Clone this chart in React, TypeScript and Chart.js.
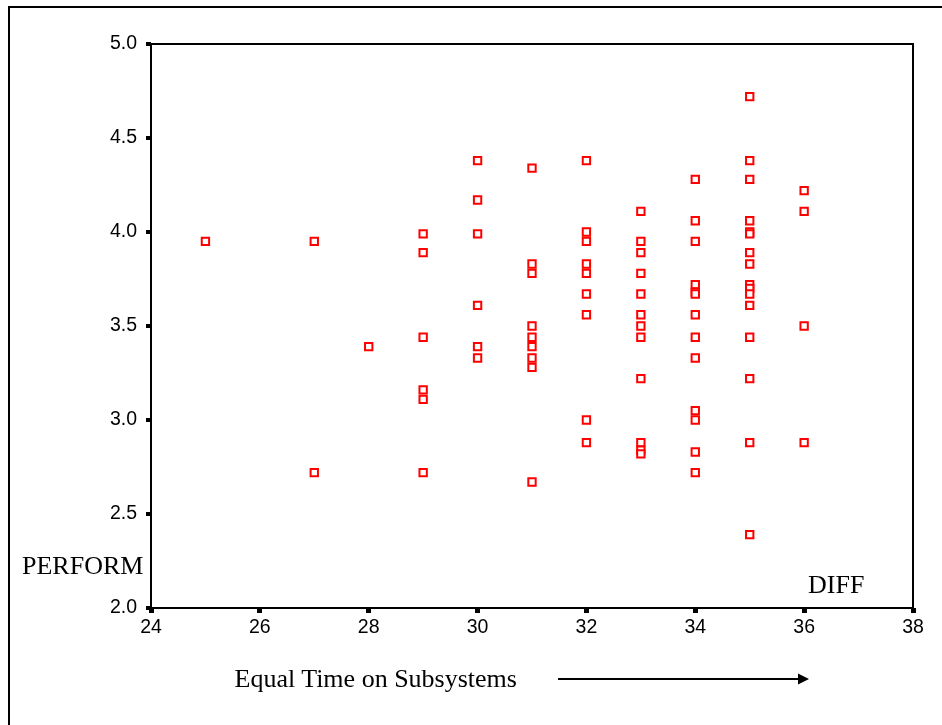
import React, { useEffect, useRef } from "react";
import { Chart, registerables } from "chart.js";

Chart.register(...registerables);

// DIFF (x) values, grouped by column
const diff: number[] = [
  25,
  27, 27,
  28,
  29, 29, 29, 29, 29, 29,
  30, 30, 30, 30, 30, 30,
  31, 31, 31, 31, 31, 31, 31, 31, 31,
  32, 32, 32, 32, 32, 32, 32, 32, 32,
  33, 33, 33, 33, 33, 33, 33, 33, 33, 33, 33, 33,
  34, 34, 34, 34, 34, 34, 34, 34, 34, 34, 34, 34, 34,
  35, 35, 35, 35, 35, 35, 35, 35, 35, 35, 35, 35, 35, 35, 35, 35,
  36, 36, 36, 36,
];

// PERFORM (y) values, same order as diff
const perform: number[] = [
  3.95,
  3.95, 2.72,
  3.39,
  3.99, 3.89, 3.44, 3.16, 3.11, 2.72,
  4.38, 4.17, 3.99, 3.61, 3.39, 3.33,
  4.34, 3.83, 3.78, 3.5, 3.44, 3.39, 3.33, 3.28, 2.67,
  4.38, 4.0, 3.95, 3.83, 3.78, 3.67, 3.56, 3.0, 2.88,
  4.11, 3.95, 3.89, 3.78, 3.67, 3.56, 3.5, 3.44, 3.22, 2.88, 2.84, 2.82,
  4.28, 4.06, 3.95, 3.72, 3.68, 3.67, 3.56, 3.44, 3.33, 3.05, 3.0, 2.83, 2.72,
  4.72, 4.38, 4.28, 4.06, 4.0, 3.99, 3.89, 3.83, 3.72, 3.7, 3.67, 3.61, 3.44, 3.22, 2.88, 2.39,
  4.22, 4.11, 3.5, 2.88,
];

const xMin = 24;
const xMax = 38;
const xStep = 2;
const yMin = 2;
const yMax = 5;
const yStep = 0.5;

const yTitle = "PERFORM";
const xTitle = "DIFF";
const caption = "Equal Time on Subsystems";

const frameBox = {
  id: "frameBox",
  afterDraw(chart: any) {
    const { ctx, chartArea } = chart;
    ctx.save();
    ctx.strokeStyle = "#000";
    ctx.lineWidth = 2;
    ctx.strokeRect(
      chartArea.left,
      chartArea.top,
      chartArea.right - chartArea.left,
      chartArea.bottom - chartArea.top
    );
    ctx.restore();
  },
};

export default function App() {
  const ref = useRef<HTMLCanvasElement | null>(null);

  useEffect(() => {
    if (!ref.current) return;
    const points = diff.map((x, i) => ({ x, y: perform[i] }));
    const chart = new Chart(ref.current, {
      type: "scatter",
      data: {
        datasets: [
          {
            data: points,
            pointStyle: "rect",
            pointRadius: 5.2,
            pointBorderWidth: 2,
            borderColor: "#ff0000",
            backgroundColor: "#ffffff",
          },
        ],
      },
      options: {
        animation: false,
        responsive: false,
        maintainAspectRatio: false,
        layout: { padding: { left: 0, top: 44, right: 29, bottom: 0 } },
        plugins: {
          legend: { display: false },
          tooltip: { enabled: false },
        },
        scales: {
          x: {
            type: "linear",
            min: xMin,
            max: xMax,
            afterFit: (s: any) => {
              s.height = 117;
            },
            border: { display: false },
            grid: {
              drawOnChartArea: false,
              drawTicks: true,
              tickLength: 5,
              lineWidth: 5,
              color: "#000",
            },
            ticks: {
              stepSize: xStep,
              color: "#000",
              padding: 3,
              maxRotation: 0,
              font: { family: "Liberation Sans, Arial", size: 19.5 },
            },
          },
          y: {
            type: "linear",
            min: yMin,
            max: yMax,
            afterFit: (s: any) => {
              s.width = 151;
            },
            border: { display: false },
            grid: {
              drawOnChartArea: false,
              drawTicks: true,
              tickLength: 5,
              lineWidth: 4,
              color: "#000",
            },
            ticks: {
              stepSize: yStep,
              color: "#000",
              padding: 9,
              font: { family: "Liberation Sans, Arial", size: 19.5 },
              callback: (v: any) => Number(v).toFixed(1),
            },
          },
        },
      },
      plugins: [frameBox],
    });
    return () => chart.destroy();
  }, []);

  const serif: React.CSSProperties = {
    position: "absolute",
    fontFamily: "'Liberation Serif', 'Times New Roman', serif",
    fontSize: 26,
    lineHeight: "26px",
    color: "#000",
    whiteSpace: "nowrap",
  };

  return (
    <div>
      <div
        style={{
          position: "absolute",
          left: 8,
          top: 6,
          width: 934,
          height: 719,
          boxSizing: "border-box",
          borderLeft: "2px solid #000",
          borderTop: "2px solid #000",
        }}
      />
      <canvas
        ref={ref}
        width={942}
        height={725}
        style={{ position: "absolute", left: 0, top: 0, width: 942, height: 725 }}
      />
      <div style={{ ...serif, left: 22, top: 553 }}>{yTitle}</div>
      <div style={{ ...serif, left: 808, top: 572 }}>{xTitle}</div>
      <div style={{ ...serif, left: 234.5, top: 666 }}>{caption}</div>
      <svg
        width={942}
        height={725}
        style={{ position: "absolute", left: 0, top: 0, pointerEvents: "none" }}
      >
        <line x1={558} y1={679} x2={799} y2={679} stroke="#000" strokeWidth={2} />
        <polygon points="798,673.5 809,679 798,684.5" fill="#000" />
      </svg>
    </div>
  );
}
